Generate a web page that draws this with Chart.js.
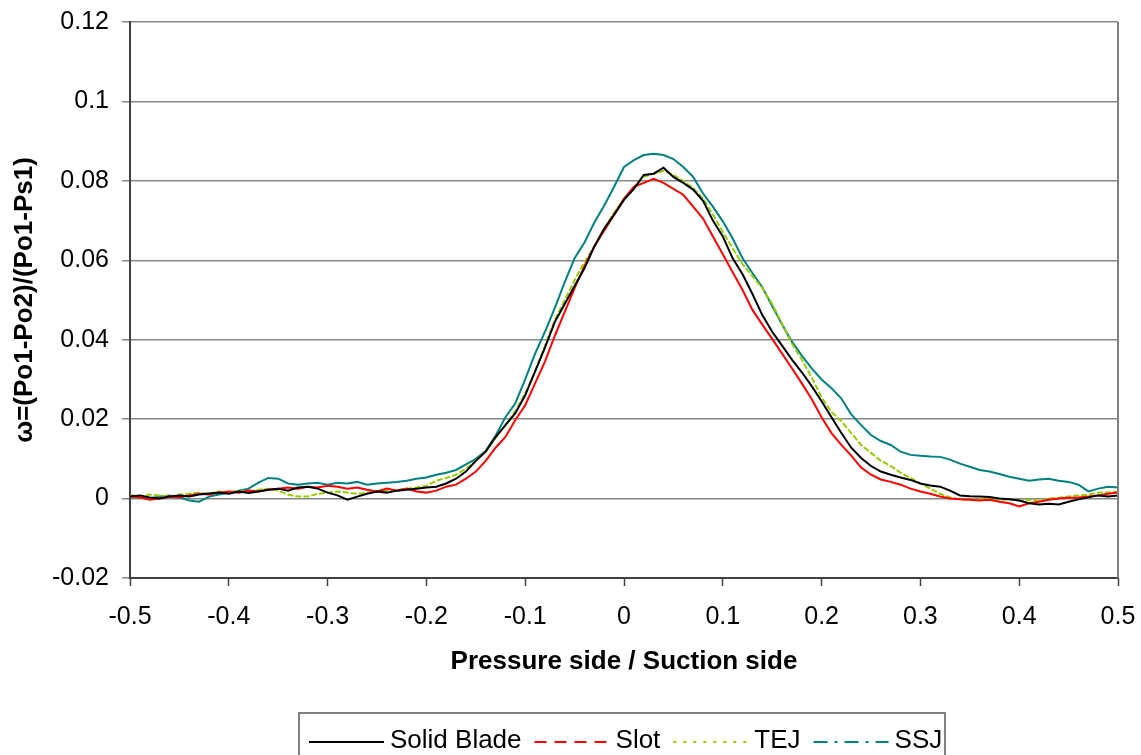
<!DOCTYPE html>
<html>
<head>
<meta charset="utf-8">
<script src="https://cdn.jsdelivr.net/npm/chart.js@4.4.0/dist/chart.umd.min.js"></script>
<style>
  html, body { margin: 0; padding: 0; background: #ffffff; }
  canvas { display: block; }
</style>
</head>
<body>
<canvas id="wake" width="1141" height="755"></canvas>
<script>
// Traverse position across the wake (pitch fraction)
const position = [
  -0.50, -0.49, -0.48, -0.47, -0.46, -0.45, -0.44, -0.43, -0.42, -0.41,
  -0.40, -0.39, -0.38, -0.37, -0.36, -0.35, -0.34, -0.33, -0.32, -0.31,
  -0.30, -0.29, -0.28, -0.27, -0.26, -0.25, -0.24, -0.23, -0.22, -0.21,
  -0.20, -0.19, -0.18, -0.17, -0.16, -0.15, -0.14, -0.13, -0.12, -0.11,
  -0.10, -0.09, -0.08, -0.07, -0.06, -0.05, -0.04, -0.03, -0.02, -0.01,
   0.00,  0.01,  0.02,  0.03,  0.04,  0.05,  0.06,  0.07,  0.08,  0.09,
   0.10,  0.11,  0.12,  0.13,  0.14,  0.15,  0.16,  0.17,  0.18,  0.19,
   0.20,  0.21,  0.22,  0.23,  0.24,  0.25,  0.26,  0.27,  0.28,  0.29,
   0.30,  0.31,  0.32,  0.33,  0.34,  0.35,  0.36,  0.37,  0.38,  0.39,
   0.40,  0.41,  0.42,  0.43,  0.44,  0.45,  0.46,  0.47,  0.48,  0.49,
   0.50
];

// Total pressure loss coefficient, one array per blade configuration
const solidBlade = [
  0.0005, 0.0008, 0.0003, 0.0000, 0.0005, 0.0008, 0.0005, 0.0010, 0.0013, 0.0015,
  0.0012, 0.0018, 0.0014, 0.0018, 0.0022, 0.0025, 0.0020, 0.0028, 0.0030, 0.0025,
  0.0015, 0.0008, -0.0003, 0.0005, 0.0012, 0.0018, 0.0015, 0.0020, 0.0022, 0.0025,
  0.0028, 0.0030, 0.0038, 0.0050, 0.0068, 0.0095, 0.0118, 0.0155, 0.0185, 0.0215,
  0.0260, 0.0320, 0.0380, 0.0445, 0.0490, 0.0535, 0.0580, 0.0635, 0.0680, 0.0715,
  0.0752, 0.0780, 0.0815, 0.0818, 0.0833, 0.0810, 0.0795, 0.0778, 0.0750, 0.0700,
  0.0660, 0.0605, 0.0565, 0.0515, 0.0462, 0.0420, 0.0385, 0.0350, 0.0318, 0.0283,
  0.0245, 0.0205, 0.0165, 0.0128, 0.0102, 0.0082, 0.0068, 0.0060, 0.0053, 0.0047,
  0.0038, 0.0033, 0.0030, 0.0020, 0.0008, 0.0006, 0.0005, 0.0004, 0.0000, -0.0002,
  -0.0005, -0.0012, -0.0015, -0.0013, -0.0015, -0.0008, -0.0002, 0.0003, 0.0008, 0.0005,
  0.0008
];

const slot = [
  0.0005, 0.0003, -0.0003, 0.0000, 0.0005, 0.0003, 0.0008, 0.0012, 0.0010, 0.0015,
  0.0018, 0.0015, 0.0020, 0.0018, 0.0022, 0.0025, 0.0028, 0.0025, 0.0030, 0.0028,
  0.0032, 0.0030, 0.0025, 0.0028, 0.0022, 0.0018, 0.0025, 0.0020, 0.0025, 0.0018,
  0.0015, 0.0020, 0.0030, 0.0035, 0.0050, 0.0068, 0.0095, 0.0128, 0.0155, 0.0198,
  0.0235, 0.0290, 0.0345, 0.0410, 0.0470, 0.0530, 0.0585, 0.0635, 0.0675, 0.0715,
  0.0755, 0.0785, 0.0795, 0.0805, 0.0795, 0.0780, 0.0765, 0.0735, 0.0705, 0.0660,
  0.0615, 0.0570, 0.0525, 0.0475, 0.0438, 0.0402, 0.0365, 0.0328, 0.0290, 0.0250,
  0.0205, 0.0165, 0.0135, 0.0108, 0.0078, 0.0060, 0.0048, 0.0042, 0.0035, 0.0025,
  0.0018, 0.0012, 0.0005, 0.0000, -0.0002, -0.0003, -0.0005, -0.0003, -0.0008, -0.0012,
  -0.0020, -0.0012, -0.0008, -0.0003, 0.0000, 0.0002, 0.0003, 0.0005, 0.0008, 0.0012,
  0.0015
];

const tej = [
  0.0008, 0.0005, 0.0010, 0.0008, 0.0005, 0.0010, 0.0012, 0.0015, 0.0012, 0.0018,
  0.0015, 0.0020, 0.0018, 0.0022, 0.0025, 0.0020, 0.0010, 0.0005, 0.0005, 0.0012,
  0.0015, 0.0018, 0.0015, 0.0012, 0.0015, 0.0018, 0.0020, 0.0022, 0.0025, 0.0028,
  0.0032, 0.0045, 0.0052, 0.0060, 0.0075, 0.0095, 0.0118, 0.0152, 0.0185, 0.0220,
  0.0265, 0.0320, 0.0385, 0.0450, 0.0500, 0.0550, 0.0595, 0.0635, 0.0680, 0.0720,
  0.0755, 0.0785, 0.0810, 0.0818, 0.0825, 0.0815, 0.0800, 0.0782, 0.0755, 0.0715,
  0.0672, 0.0630, 0.0590, 0.0560, 0.0530, 0.0490, 0.0440, 0.0390, 0.0350, 0.0305,
  0.0255, 0.0218, 0.0195, 0.0165, 0.0135, 0.0115, 0.0095, 0.0082, 0.0065, 0.0052,
  0.0038, 0.0025, 0.0012, 0.0003, -0.0002, -0.0003, -0.0002, 0.0000, -0.0003, -0.0002,
  -0.0005, -0.0003, -0.0005, 0.0000, 0.0002, 0.0005, 0.0008, 0.0010, 0.0015, 0.0015,
  0.0018
];

const ssj = [
  0.0008, 0.0005, 0.0000, 0.0005, 0.0008, 0.0003, -0.0005, -0.0008, 0.0005, 0.0010,
  0.0015, 0.0020, 0.0025, 0.0040, 0.0052, 0.0050, 0.0038, 0.0035, 0.0038, 0.0040,
  0.0035, 0.0040, 0.0038, 0.0042, 0.0035, 0.0038, 0.0040, 0.0042, 0.0045, 0.0050,
  0.0053, 0.0060, 0.0065, 0.0072, 0.0086, 0.0100, 0.0120, 0.0158, 0.0205, 0.0240,
  0.0300, 0.0365, 0.0420, 0.0480, 0.0545, 0.0605, 0.0645, 0.0695, 0.0738, 0.0785,
  0.0835, 0.0852, 0.0865, 0.0868, 0.0865, 0.0855, 0.0835, 0.0810, 0.0768, 0.0735,
  0.0698, 0.0655, 0.0605, 0.0568, 0.0532, 0.0485, 0.0438, 0.0395, 0.0360, 0.0328,
  0.0300, 0.0278, 0.0252, 0.0212, 0.0185, 0.0160, 0.0145, 0.0135, 0.0118, 0.0110,
  0.0108, 0.0106, 0.0105, 0.0098, 0.0088, 0.0080, 0.0072, 0.0068, 0.0062, 0.0055,
  0.0050, 0.0045, 0.0048, 0.0050, 0.0045, 0.0042, 0.0035, 0.0018, 0.0025, 0.0030,
  0.0028
];

const seriesNames = ['Solid Blade', 'Slot', 'TEJ', 'SSJ'];
const xTickLabels = ['-0.5', '-0.4', '-0.3', '-0.2', '-0.1', '0', '0.1', '0.2', '0.3', '0.4', '0.5'];
const yTickLabels = ['-0.02', '0', '0.02', '0.04', '0.06', '0.08', '0.1', '0.12'];

// Line styles: plotted dash and the key's dash pattern
const styles = [
  { color: '#000000', dash: [],     keyDash: [] },
  { color: '#ff0000', dash: [],     keyDash: [12, 8] },
  { color: '#99cc00', dash: [6, 2], keyDash: [3, 7] },
  { color: '#008080', dash: [],     keyDash: [14, 7, 3, 7] }
];

const seriesValues = [solidBlade, slot, tej, ssj];

const datasets = seriesValues.map((vals, i) => ({
  label: seriesNames[i],
  data: position.map((x, j) => ({ x: x, y: vals[j] })),
  borderColor: styles[i].color,
  backgroundColor: styles[i].color,
  borderWidth: 2,
  borderDash: styles[i].dash,
  pointRadius: 0,
  tension: 0,
  fill: false
}));

const FONT = "'Liberation Sans', Arial, sans-serif";

// Boxed key below the x-axis title, plus the right frame edge
const framePlugin = {
  id: 'frameAndKey',
  afterDraw(chart) {
    const ctx = chart.ctx;
    const area = chart.chartArea;
    ctx.save();
    // right edge of the plot frame
    ctx.strokeStyle = '#808080';
    ctx.lineWidth = 2;
    ctx.beginPath();
    ctx.moveTo(area.right, area.top);
    ctx.lineTo(area.right, area.bottom);
    ctx.stroke();

    // key box
    const boxLeft = 299, boxTop = 713, boxRight = 945, boxBottom = 775;
    ctx.strokeStyle = '#808080';
    ctx.lineWidth = 2;
    ctx.strokeRect(boxLeft, boxTop, boxRight - boxLeft, boxBottom - boxTop);

    ctx.font = '26px ' + FONT;
    ctx.textBaseline = 'middle';
    ctx.textAlign = 'left';
    const rowY = 741;
    let x = 309;
    chart.data.datasets.forEach((ds, i) => {
      ctx.strokeStyle = ds.borderColor;
      ctx.lineWidth = 2;
      ctx.setLineDash(styles[i].keyDash);
      ctx.beginPath();
      ctx.moveTo(x, rowY + 1);
      ctx.lineTo(x + 75, rowY + 1);
      ctx.stroke();
      ctx.setLineDash([]);
      x += 81;
      ctx.fillStyle = '#000000';
      ctx.fillText(ds.label, x, rowY);
      x += ctx.measureText(ds.label).width + 13;
    });
    ctx.restore();
  }
};

new Chart(document.getElementById('wake'), {
  type: 'line',
  data: { datasets: datasets },
  plugins: [framePlugin],
  options: {
    responsive: false,
    animation: false,
    devicePixelRatio: 1,
    layout: { padding: { left: 0, right: 23, top: 22, bottom: 78 } },
    plugins: {
      legend: { display: false },
      tooltip: { enabled: false }
    },
    scales: {
      x: {
        type: 'linear',
        min: -0.5,
        max: 0.5,
        afterFit(scale) {
          scale.height = 99;
          scale.paddingLeft = 0;
          scale.paddingRight = 0;
        },
        ticks: {
          stepSize: 0.1,
          autoSkip: false,
          maxRotation: 0,
          padding: 16,
          color: '#000000',
          font: { family: FONT, size: 25 },
          callback: (v) => xTickLabels[Math.round((v + 0.5) * 10)]
        },
        grid: {
          drawOnChartArea: false,
          drawTicks: true,
          tickLength: 8,
          tickColor: '#404040',
          tickWidth: 1.5
        },
        border: { display: true, color: '#404040', width: 2 },
        title: {
          display: true,
          text: 'Pressure side / Suction side',
          color: '#000000',
          font: { family: FONT, size: 26, weight: 'bold' },
          padding: { top: 0, bottom: 0 }
        }
      },
      y: {
        type: 'linear',
        min: -0.02,
        max: 0.12,
        afterFit(scale) {
          scale.width = 130;
          scale.paddingTop = 0;
          scale.paddingBottom = 0;
        },
        ticks: {
          stepSize: 0.02,
          padding: 13,
          color: '#000000',
          font: { family: FONT, size: 25 },
          callback: (v) => yTickLabels[Math.round((v + 0.02) / 0.02)]
        },
        grid: {
          color: '#868686',
          lineWidth: 1.5,
          drawTicks: true,
          tickLength: 8,
          tickColor: '#868686'
        },
        border: { display: true, color: '#404040', width: 2 },
        title: {
          display: true,
          text: 'ω=(Po1-Po2)/(Po1-Ps1)',
          color: '#000000',
          font: { family: FONT, size: 26, weight: 'bold' },
          padding: { top: 9, bottom: 0 }
        }
      }
    }
  }
});
</script>
</body>
</html>
